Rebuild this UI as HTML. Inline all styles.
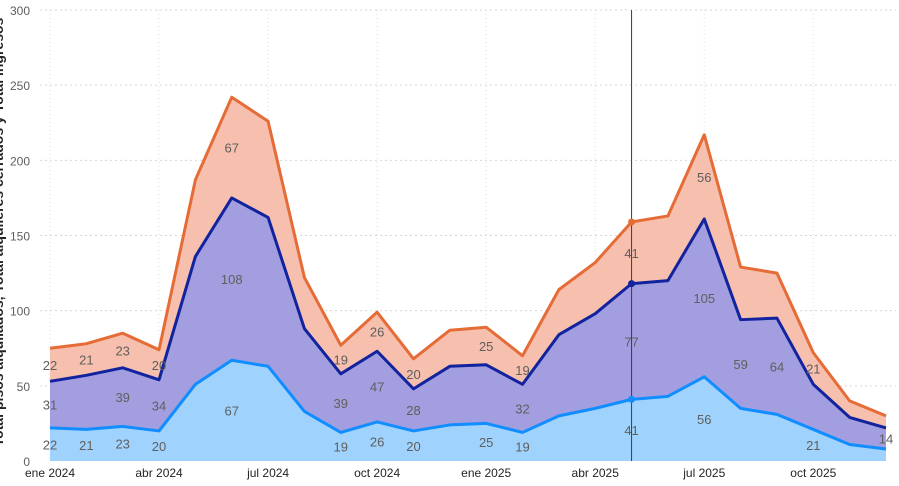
<!DOCTYPE html>
<html><head><meta charset="utf-8"><style>
html,body{margin:0;padding:0;background:#fff;width:899px;height:486px;overflow:hidden}
svg{display:block;font-family:"Liberation Sans",sans-serif}
</style></head><body>
<svg id="chart" width="899" height="486" viewBox="0 0 899 486"></svg>
<script>
const categories=["ene 2024","feb 2024","mar 2024","abr 2024","may 2024","jun 2024","jul 2024","ago 2024","sep 2024","oct 2024","nov 2024","dic 2024","ene 2025","feb 2025","mar 2025","abr 2025","may 2025","jun 2025","jul 2025","ago 2025","sep 2025","oct 2025","nov 2025","dic 2025"];
const seriesA=[22,21,23,20,51,67,63,33,19,26,20,24,25,19,30,35,41,43,56,35,31,21,11,8];
const seriesB=[31,36,39,34,85,108,99,55,39,47,28,39,39,32,54,63,77,77,105,59,64,30,18,14];
const seriesC=[22,21,23,20,51,67,64,34,19,26,20,24,25,19,30,34,41,43,56,35,30,21,11,8];
const yTicks=[0,50,100,150,200,250,300];
const xTickIdx=[0,3,6,9,12,15,18,21];
const labA=[0,1,2,3,5,8,9,10,12,13,16,18,21];
const labB=[0,2,3,5,8,9,10,13,16,18,19,20,23];
const labC=[0,1,2,3,5,8,9,10,12,13,16,18,21];
const hoverIdx=16;

const NS="http://www.w3.org/2000/svg";
const svg=document.getElementById('chart');
const x0=50,x1=886,yb=461,yt=10,ymax=300;
const xs=i=>x0+i*(x1-x0)/(categories.length-1);
const ys=v=>yb-v*(yb-yt)/ymax;
function mk(t,a,p){const e=document.createElementNS(NS,t);for(const k in a)e.setAttribute(k,a[k]);(p||svg).appendChild(e);return e;}

const grid=mk('g',{});


yTicks.forEach(v=>{
  if(v>0){mk('line',{x1:40,x2:896,y1:ys(v),y2:ys(v),stroke:'#d6d6d6','stroke-dasharray':'2,3'},grid);}
  const t=mk('text',{x:30,y:ys(v)+5,'text-anchor':'end','font-size':12,fill:'#605e5c'});
  t.textContent=v;
  
  
});
xTickIdx.forEach(i=>{
  mk('line',{x1:xs(i),x2:xs(i),y1:yt,y2:yb,stroke:'#e0d8e8','stroke-dasharray':'1,3'},grid);
  const t=mk('text',{x:xs(i),y:477,'text-anchor':'middle','font-size':12,fill:'#252423'});
  t.textContent=categories[i];
  
  
});

const cumA=seriesA.slice();
const cumB=seriesA.map((v,i)=>v+seriesB[i]);
const cumC=cumB.map((v,i)=>v+seriesC[i]);
function area(top,bot,fill,name){
  let d='M'+top.map((v,i)=>xs(i)+','+ys(v)).join('L');
  for(let i=bot.length-1;i>=0;i--)d+='L'+xs(i)+','+ys(bot[i]);
  const p=mk('path',{d:d+'Z',fill:fill});
  
  
}
function line(vals,col,name){
  const p=mk('path',{d:'M'+vals.map((v,i)=>xs(i)+','+ys(v)).join('L'),fill:'none',stroke:col,'stroke-width':3,'stroke-linejoin':'round'});
  
  
}
const zeros=seriesA.map(()=>0);
area(cumC,cumB,'#f6bfae','area-series-3');
area(cumB,cumA,'#a29edf','area-series-2');
area(cumA,zeros,'#9fd3fd','area-series-1');
line(cumC,'#e66c37','line-series-3');
line(cumB,'#12239e','line-series-2');
line(cumA,'#118dff','line-series-1');

function labels(idx,vals,cum,name){
  idx.forEach(i=>{
    const mid=cum[i]-vals[i]/2;
    const t=mk('text',{x:xs(i),y:ys(mid)+5,'text-anchor':'middle','font-size':13,fill:'#605e5c'});
    t.textContent=vals[i];
    
    
  });
}
labels(labA,seriesA,cumA,'data-label-series-1');
labels(labB,seriesB,cumB,'data-label-series-2');
labels(labC,seriesC,cumC,'data-label-series-3');

const hl=mk('line',{x1:xs(hoverIdx),x2:xs(hoverIdx),y1:yt,y2:yb,stroke:'#3a3a50','stroke-width':1});


[[cumA,'#118dff'],[cumB,'#12239e'],[cumC,'#e66c37']].forEach(([c,col])=>{
  const d=mk('circle',{cx:xs(hoverIdx),cy:ys(c[hoverIdx]),r:3.5,fill:col});
  
  
});

const yt2=mk('text',{x:0,y:0,transform:'translate(3,232) rotate(-90)','text-anchor':'middle','font-size':14,'font-weight':'bold',fill:'#252423'});
yt2.textContent='Total pisos alquilados, Total alquileres cerrados y Total ingresos';


</script>
</body></html>
